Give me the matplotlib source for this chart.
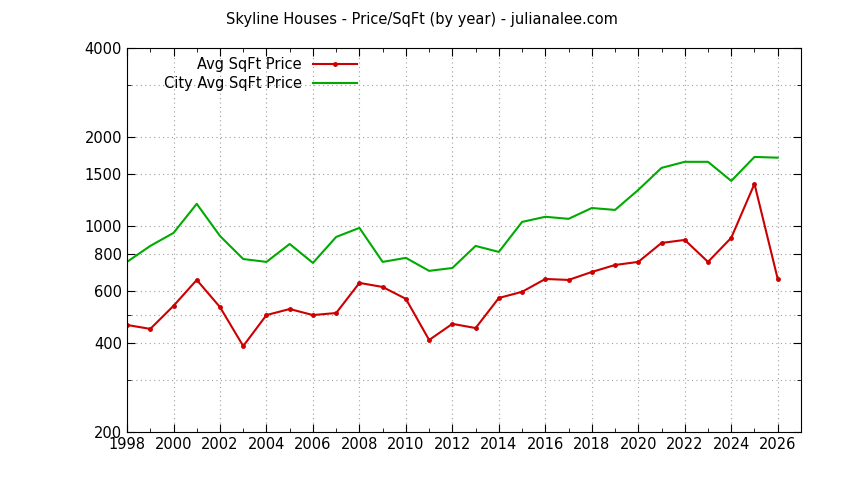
import matplotlib.pyplot as plt
from matplotlib.ticker import FixedLocator, NullFormatter

years = list(range(1998, 2027))
avg_price = [461, 447, 535, 655, 530, 391, 498, 522, 498, 506, 640, 620, 565, 410,
             465, 450, 569, 597, 660, 655, 697, 736, 754, 874, 895, 754, 910, 1386, 660]
city_price = [754, 854, 945, 1186, 923, 771, 754, 867, 748, 916, 983, 754, 778, 703,
              719, 854, 815, 1030, 1072, 1055, 1148, 1131, 1322, 1570, 1646, 1646, 1418, 1710, 1700]
y_ticks = [200, 400, 600, 800, 1000, 1500, 2000, 4000]
y_minor = [300, 500, 3000]

fig = plt.figure(figsize=(8.44, 4.8), dpi=100)
ax = fig.add_axes([0.1505, 0.1, 0.7985, 0.8])

ax.plot(years, avg_price, color='#cc0000', lw=1.5, marker='o', ms=2.5, label='Avg SqFt Price')
ax.plot(years, city_price, color='#00aa00', lw=1.5, label='City Avg SqFt Price')

ax.set_yscale('log')
ax.set_ylim(200, 4000)
ax.set_xlim(1998, 2027)
ax.yaxis.set_major_locator(FixedLocator(y_ticks))
ax.yaxis.set_major_formatter(plt.FixedFormatter([str(t) for t in y_ticks]))
ax.yaxis.set_minor_locator(FixedLocator(y_minor))
ax.yaxis.set_minor_formatter(NullFormatter())
ax.set_xticks(range(1998, 2027, 2))
ax.set_xticks(range(1998, 2028), minor=True)

ax.grid(True, which='major', color='#a0a0a0', ls=(0, (1, 3)), lw=0.8)
ax.grid(True, which='minor', axis='y', color='#a0a0a0', ls=(0, (1, 3)), lw=0.8)
ax.tick_params(which='both', direction='in', top=True, right=True, labelsize=10.5)
ax.tick_params(which='major', length=6)
ax.tick_params(which='minor', length=3)
for s in ax.spines.values():
    s.set_linewidth(0.8)

leg = ax.legend(loc='upper left', bbox_to_anchor=(0.035, 1.01), frameon=False, markerfirst=False,
                fontsize=10.5, handlelength=3.0, labelspacing=0.25)
leg.get_frame().set_facecolor('white')
fig.suptitle('Skyline Houses - Price/SqFt (by year) - julianalee.com', y=0.975, fontsize=10.5)

plt.savefig('out.png')
